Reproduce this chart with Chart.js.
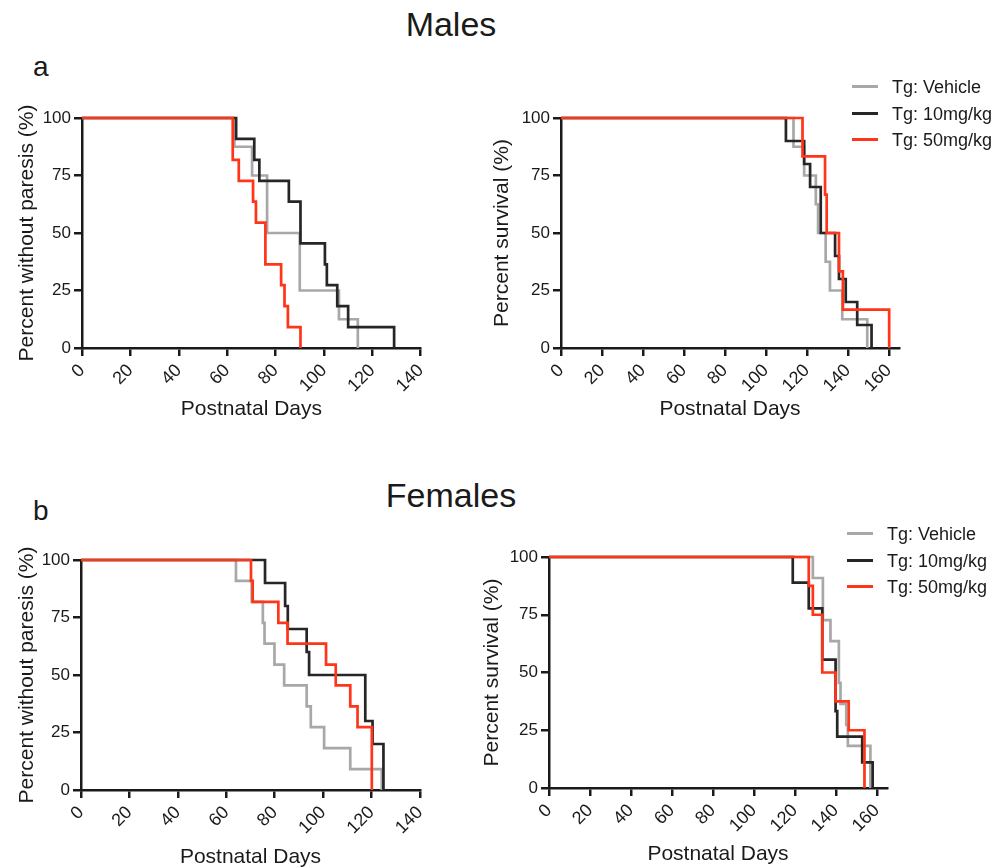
<!DOCTYPE html>
<html>
<head>
<meta charset="utf-8">
<script src="https://cdn.jsdelivr.net/npm/chart.js@4/dist/chart.umd.min.js"></script>
<style>
  body { margin: 0; width: 1005px; height: 867px; background: #fff; position: relative; overflow: hidden;
         font-family: "Liberation Sans", Arial, sans-serif; color: #1a1a1a; }
  canvas { position: absolute; }
  .txt { position: absolute; white-space: nowrap; line-height: 1; }
  .legend { position: absolute; }
  .legend .row { position: absolute; left: 0; height: 18px; }
  .legend .swatch { position: absolute; top: 7px; width: 26px; height: 3px; }
  .legend .lbl { position: absolute; top: 0; font-size: 18px; line-height: 18px; white-space: nowrap; }
</style>
</head>
<body>
<div class="txt" style="left:0;width:902px;text-align:center;top:7px;font-size:34px;">Males</div>
<div class="txt" style="left:33px;top:53px;font-size:28px;">a</div>
<div class="txt" style="left:0;width:902px;text-align:center;top:478px;font-size:34px;">Females</div>
<div class="txt" style="left:33px;top:497px;font-size:28px;">b</div>

<canvas id="maleParesis" width="440" height="340" style="left:0;top:90px"></canvas>
<canvas id="maleSurvival" width="450" height="340" style="left:470px;top:90px"></canvas>
<canvas id="femaleParesis" width="440" height="350" style="left:0;top:530px"></canvas>
<canvas id="femaleSurvival" width="440" height="350" style="left:470px;top:530px"></canvas>

<div class="legend" id="legendTop" style="left:852px;top:78px"></div>
<div class="legend" id="legendBottom" style="left:847px;top:525px"></div>

<script>
const groups = ["Tg: Vehicle", "Tg: 10mg/kg", "Tg: 50mg/kg"];
const colors = ["#a8a8a8", "#262626", "#ff3519"];

// a - males, onset of paresis
const mParVehDays = [0, 63, 70.3, 76.5, 90, 106.2, 114];
const mParVehPct = [100, 87.5, 75, 50, 25, 12.5, 0];
const mPar10Days = [0, 63.7, 71.2, 73.3, 85.5, 90.3, 100.4, 101.2, 105.5, 110, 129];
const mPar10Pct = [100, 90.9, 81.8, 72.7, 63.6, 45.5, 36.4, 27.3, 18.2, 9.1, 0];
const mPar50Days = [0, 62.3, 64.8, 70.7, 71.9, 75.8, 82.3, 83.7, 85.1, 90.3];
const mPar50Pct = [100, 81.8, 72.7, 63.6, 54.5, 36.4, 27.3, 18.2, 9.1, 0];

// a - males, survival
const mSurVehDays = [0, 113.5, 118.7, 124.4, 125.5, 129.2, 131.3, 137.3, 149.5];
const mSurVehPct = [100, 87.5, 75, 62.5, 50, 37.5, 25, 12.5, 0];
const mSur10Days = [0, 109.8, 118.7, 121.6, 126.8, 133.8, 135.7, 139, 144.6, 151.6];
const mSur10Pct = [100, 90, 80, 70, 50, 40, 30, 20, 10, 0];
const mSur50Days = [0, 117.9, 128.9, 129.7, 135.7, 137.6, 160.2];
const mSur50Pct = [100, 83.3, 66.7, 50, 33.3, 16.7, 0];

// b - females, onset of paresis
const fParVehDays = [0, 64, 70.5, 75.1, 75.8, 79.9, 83.9, 93.2, 94.9, 100.4, 111.2, 124.2];
const fParVehPct = [100, 90.9, 81.8, 72.7, 63.6, 54.5, 45.5, 36.4, 27.3, 18.2, 9.1, 0];
const fPar10Days = [0, 76, 84.3, 85.4, 93.2, 94.2, 117.4, 120.4, 124.9];
const fPar10Pct = [100, 90, 80, 70, 60, 50, 30, 20, 0];
const fPar50Days = [0, 70.2, 70.9, 81.5, 85.3, 101.2, 105.2, 111.2, 114.2, 120.1];
const fPar50Pct = [100, 90.9, 81.8, 72.7, 63.6, 54.5, 45.5, 36.4, 27.3, 0];

// b - females, survival
const fSurVehDays = [0, 128.8, 133.7, 137.4, 141.5, 142.3, 145.1, 145.9, 156.9];
const fSurVehPct = [100, 90.9, 72.7, 63.6, 45.5, 36.4, 27.3, 18.2, 0];
const fSur10Days = [0, 119, 126.8, 133.4, 139.9, 140.7, 152.9, 158];
const fSur10Pct = [100, 88.9, 77.8, 55.6, 33.3, 22.2, 11.1, 0];
const fSur50Days = [0, 126.8, 128.8, 133.4, 139.9, 146.3, 154];
const fSur50Pct = [100, 87.5, 75, 50, 37.5, 25, 0];

const yTicks = [0, 25, 50, 75, 100];
const xTicksParesis = [0, 20, 40, 60, 80, 100, 120, 140];
const xTicksSurvival = [0, 20, 40, 60, 80, 100, 120, 140, 160];

const FONT = '"Liberation Sans", Arial, sans-serif';
const INK = "#1a1a1a";

const toPoints = (days, pct) => days.map((d, i) => ({ x: d, y: pct[i] }));

const makePanel = (id, series, o) => {
  const datasets = series.map((s, i) => ({
    label: groups[i],
    data: toPoints(s[0], s[1]),
    borderColor: colors[i],
    borderWidth: 2.7,
    stepped: "before",
    pointRadius: 0,
    clip: false,
    order: 2 - i, // red on top
  }));

  return new Chart(document.getElementById(id), {
    type: "line",
    data: { datasets },
    options: {
      responsive: false,
      animation: false,
      layout: { padding: o.padding },
      plugins: { legend: { display: false }, tooltip: { enabled: false } },
      scales: {
        x: {
          type: "linear",
          min: 0,
          max: o.xMax,
          bounds: "data",
          afterBuildTicks: (scale) => { scale.ticks = o.xTicks.map((v) => ({ value: v })); },
          ticks: {
            minRotation: 45,
            maxRotation: 45,
            padding: 4,
            color: INK,
            font: { family: FONT, size: 18 },
          },
          grid: { drawOnChartArea: false, tickLength: 8, color: INK, lineWidth: 2.5 },
          border: { color: INK, width: 2.5 },
          title: {
            display: true,
            text: "Postnatal Days",
            color: INK,
            font: { family: FONT, size: 21 },
            padding: { top: 4, bottom: o.xTitlePad },
          },
          afterFit: (scale) => { scale.height = o.xHeight; },
        },
        y: {
          type: "linear",
          min: 0,
          max: 100,
          bounds: "data",
          afterBuildTicks: (scale) => { scale.ticks = yTicks.map((v) => ({ value: v })); },
          ticks: {
            padding: 3,
            color: INK,
            font: { family: FONT, size: 17 },
          },
          grid: { drawOnChartArea: false, tickLength: 8, color: INK, lineWidth: 2.5 },
          border: { color: INK, width: 2.5 },
          title: {
            display: true,
            text: o.yTitle,
            color: INK,
            font: { family: FONT, size: 21 },
            padding: { top: o.yTitlePad, bottom: 0 },
          },
          afterFit: (scale) => { scale.width = o.yWidth; },
        },
      },
    },
  });
};

makePanel("maleParesis",
  [[mParVehDays, mParVehPct], [mPar10Days, mPar10Pct], [mPar50Days, mPar50Pct]],
  { xMax: 140, xTicks: xTicksParesis, yTitle: "Percent without paresis (%)", yWidth: 82, yTitlePad: 15,
    xHeight: 78, xTitlePad: 4, padding: { left: 0, right: 19, top: 28, bottom: 4 } });

makePanel("maleSurvival",
  [[mSurVehDays, mSurVehPct], [mSur10Days, mSur10Pct], [mSur50Days, mSur50Pct]],
  { xMax: 165, xTicks: xTicksSurvival, yTitle: "Percent survival (%)", yWidth: 91, yTitlePad: 20,
    xHeight: 78, xTitlePad: 4, padding: { left: 0, right: 21, top: 28, bottom: 4 } });

makePanel("femaleParesis",
  [[fParVehDays, fParVehPct], [fPar10Days, fPar10Pct], [fPar50Days, fPar50Pct]],
  { xMax: 140, xTicks: xTicksParesis, yTitle: "Percent without paresis (%)", yWidth: 81, yTitlePad: 15,
    xHeight: 90, xTitlePad: 10, padding: { left: 0, right: 20, top: 30, bottom: 0 } });

makePanel("femaleSurvival",
  [[fSurVehDays, fSurVehPct], [fSur10Days, fSur10Pct], [fSur50Days, fSur50Pct]],
  { xMax: 165, xTicks: xTicksSurvival, yTitle: "Percent survival (%)", yWidth: 79, yTitlePad: 10,
    xHeight: 92, xTitlePad: 13, padding: { left: 0, right: 23, top: 27, bottom: 0 } });

// legends
const buildLegend = (el, textLeft) => {
  groups.forEach((g, i) => {
    let row = document.createElement("div");
    row.className = "row";
    row.style.top = (i * 26.7) + "px";
    row.innerHTML = '<div class="swatch" style="background:' + colors[i] + '"></div>' +
      '<div class="lbl" style="left:' + textLeft + 'px">' + g + "</div>";
    el.appendChild(row);
  });
};
buildLegend(document.getElementById("legendTop"), 40);
buildLegend(document.getElementById("legendBottom"), 40);
</script>
</body>
</html>
